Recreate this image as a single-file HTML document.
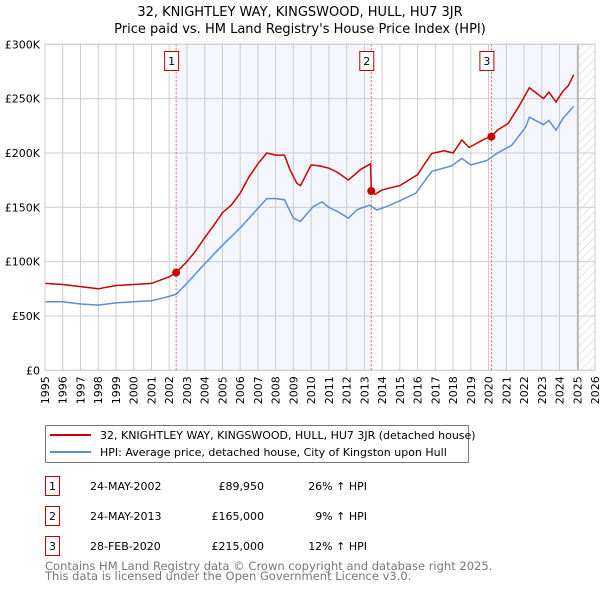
<!DOCTYPE html>
<html><head><meta charset="utf-8"><style>
body{margin:0;background:#fff}
svg text{font-family:"DejaVu Sans","Liberation Sans",sans-serif}
</style></head><body>
<svg id="chart" width="600" height="590" xmlns="http://www.w3.org/2000/svg">
<defs><pattern id="hatch" width="6" height="6" patternUnits="userSpaceOnUse" patternTransform="rotate(45)"><line x1="0" y1="0" x2="0" y2="6" stroke="#ccc" stroke-width="1"/></pattern></defs>
<text x="300" y="16" font-size="13" text-anchor="middle">32, KNIGHTLEY WAY, KINGSWOOD, HULL, HU7 3JR</text>
<text x="300" y="33" font-size="13" text-anchor="middle">Price paid vs. HM Land Registry's House Price Index (HPI)</text>
<g id="plot"></g>
<g>
<rect x="45.5" y="425.5" width="423" height="37" fill="#fff" stroke="#777"/>
<line x1="50" y1="435" x2="91" y2="435" stroke="#cc0000" stroke-width="2"/>
<text x="100" y="439" font-size="11">32, KNIGHTLEY WAY, KINGSWOOD, HULL, HU7 3JR (detached house)</text>
<line x1="50" y1="452" x2="91" y2="452" stroke="#5b8fd4" stroke-width="2"/>
<text x="100" y="456" font-size="11">HPI: Average price, detached house, City of Kingston upon Hull</text>
</g>
<g font-size="11">
<rect x="45.5" y="476.5" width="14" height="19" fill="none" stroke="#b00"/><text x="52.5" y="490" text-anchor="middle">1</text>
<text x="90" y="490">24-MAY-2002</text><text x="264" y="490" text-anchor="end">£89,950</text><text x="367" y="490" text-anchor="end">26% ↑ HPI</text>
<rect x="45.5" y="506.5" width="14" height="19" fill="none" stroke="#b00"/><text x="52.5" y="520" text-anchor="middle">2</text>
<text x="90" y="520">24-MAY-2013</text><text x="264" y="520" text-anchor="end">£165,000</text><text x="367" y="520" text-anchor="end">9% ↑ HPI</text>
<rect x="45.5" y="536.5" width="14" height="19" fill="none" stroke="#b00"/><text x="52.5" y="550" text-anchor="middle">3</text>
<text x="90" y="550">28-FEB-2020</text><text x="264" y="550" text-anchor="end">£215,000</text><text x="367" y="550" text-anchor="end">12% ↑ HPI</text>
</g>
<text x="45" y="570" font-size="11.5" fill="#777">Contains HM Land Registry data © Crown copyright and database right 2025.</text>
<text x="45" y="580" font-size="11.5" fill="#777">This data is licensed under the Open Government Licence v3.0.</text>
</svg>
<script>
const hpiYears=[1995,1996,1997,1998,1999,2000,2001,2002,2002.4,2003,2004,2005,2006,2007,2007.5,2008,2008.5,2009,2009.4,2010.1,2010.6,2011,2011.5,2012.1,2012.6,2013.3,2013.7,2014.3,2015,2015.9,2016.3,2016.8,2017.9,2018.5,2019,2019.9,2020.5,2021.3,2022.1,2022.3,2023.1,2023.4,2023.8,2024.2,2024.8];
const hpiValues=[63,63,61,60,62,63,64,68,70,80,98,115,131,149,158,158,157,140,137,150.5,155,150,146,140,148,152,147.5,151,156,163,172,183,188,195,189,193,200,207,224,233,226,230,221,232,243];
const priceYears=[1995,1996,1997,1998,1999,2000,2001,2002,2002.39,2003,2003.5,2004,2004.5,2005,2005.5,2006,2006.5,2007,2007.5,2008,2008.5,2008.8,2009.2,2009.4,2010,2010.5,2011,2011.5,2012.1,2012.8,2013.35,2013.39,2013.6,2014,2014.5,2015,2015.5,2016,2016.4,2016.8,2017.5,2018,2018.5,2018.9,2019.8,2020.16,2020.5,2021.1,2021.7,2022.3,2023.1,2023.4,2023.8,2024.2,2024.5,2024.8];
const priceValues=[80,79,77,75,78,79,80,86,89.95,100,110,122,133,145,152,163,178,190,200,198,198,185,172,170,189,188,186,182,175,185,190,165,162,166,168,170,175,180,190,199.6,202,200,212,205,213,215,221,227,242.6,260,250,256,247,257,262,272];
const saleYears=[2002.39,2013.39,2020.16];
const saleValues=[89.95,165,215];
const saleLabels=["1","2","3"];
const yTicks=[0,50,100,150,200,250,300];
const yTickLabels=["£0","£50K","£100K","£150K","£200K","£250K","£300K"];
const xTicks=[];for(let y=1995;y<=2026;y++)xTicks.push(y);

const L=45,R=595,T=44.3,B=370.3,X0=1995,X1=2026,YMAX=300;
const xs=v=>L+(v-X0)/(X1-X0)*(R-L);
const ys=v=>B-v/YMAX*(B-T);
const NS='http://www.w3.org/2000/svg';
const g=document.getElementById('plot');
function mk(tag,at,parent){const e=document.createElementNS(NS,tag);for(const k in at)e.setAttribute(k,at[k]);(parent||g).appendChild(e);return e;}
mk('rect',{x:L,y:T,width:R-L,height:B-T,fill:'#fff'});
const s1=mk('rect',{x:xs(saleYears[0]),y:T,width:xs(saleYears[1])-xs(saleYears[0]),height:B-T,fill:'#f3f6fd'});


const s2=mk('rect',{x:xs(saleYears[2]),y:T,width:xs(2025.05)-xs(saleYears[2]),height:B-T,fill:'#f3f6fd'});


const hz=mk('rect',{x:xs(2025.05),y:T,width:R-xs(2025.05),height:B-T,fill:'url(#hatch)'});


xTicks.forEach(t=>{
 mk('line',{x1:xs(t),x2:xs(t),y1:T,y2:B,stroke:'#ccc','stroke-width':1});
 const tx=mk('text',{x:0,y:0,'font-size':11,'text-anchor':'end',transform:`translate(${xs(t)+4},${B+6}) rotate(-90)`});
 tx.textContent=t;
 
 
});
yTicks.forEach((t,i)=>{
 mk('line',{x1:L,x2:R,y1:ys(t),y2:ys(t),stroke:'#ccc','stroke-width':1});
 const tx=mk('text',{x:L-5,y:ys(t)+4,'font-size':11,'text-anchor':'end'});
 tx.textContent=yTickLabels[i];
 
 
});
mk('line',{x1:xs(2025.05),x2:xs(2025.05),y1:T,y2:B,stroke:'#999','stroke-width':1});
saleYears.forEach((yr,i)=>{
 mk('line',{x1:xs(yr),x2:xs(yr),y1:T,y2:B,stroke:'#e06060','stroke-width':1,'stroke-dasharray':'2,2'});
 const r=mk('rect',{x:xs(yr)-11.5,y:51.5,width:14,height:19,fill:'#fff',stroke:'#b00'});
 
 
 const tx=mk('text',{x:xs(yr)-4.5,y:65,'font-size':11,'text-anchor':'middle'});
 tx.textContent=saleLabels[i];
});
function path(xsA,vs){return xsA.map((x,i)=>(i?'L':'M')+xs(x).toFixed(1)+','+ys(vs[i]).toFixed(1)).join('');}
const hp=mk('path',{d:path(hpiYears,hpiValues),fill:'none',stroke:'#5b8fd4','stroke-width':1.5});


const pp=mk('path',{d:path(priceYears,priceValues),fill:'none',stroke:'#cc0000','stroke-width':1.5});


saleYears.forEach((yr,i)=>{
 const c=mk('circle',{cx:xs(yr),cy:ys(saleValues[i]),r:4,fill:'#cc0000'});
 
 
});
mk('rect',{x:L,y:T,width:R-L,height:B-T,fill:'none',stroke:'#ccc'});
</script>
</body></html>
